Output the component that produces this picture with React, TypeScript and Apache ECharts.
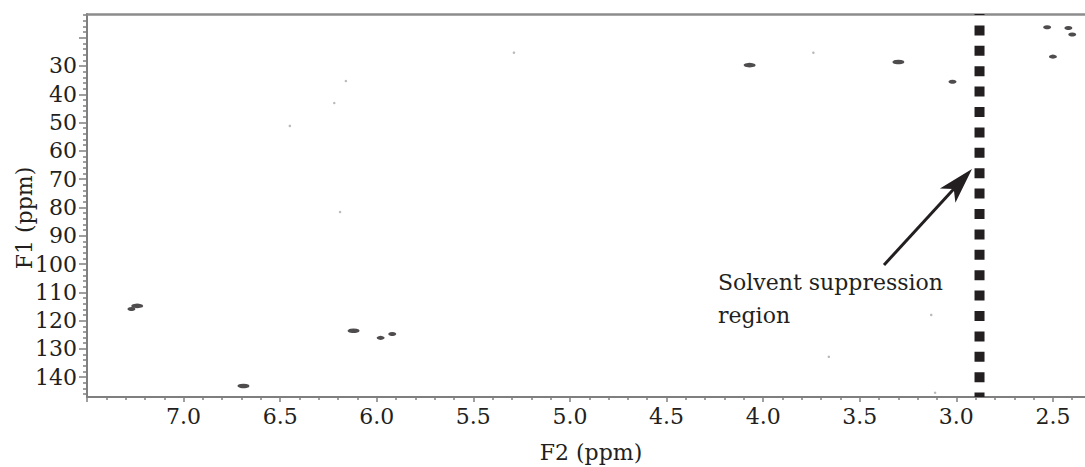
import React, { useEffect, useRef } from "react";
import * as echarts from "echarts";

// ---- axis ranges (ppm) ----
const F2_MIN = 2.334;
const F2_MAX = 7.5;
const F1_MIN = 11.63;
const F1_MAX = 147.0;

// ---- tick labels ----
const f2Labels = [2.5, 3.0, 3.5, 4.0, 4.5, 5.0, 5.5, 6.0, 6.5, 7.0];
const f2MajorTicks = [2.5, 3.0, 3.5, 4.0, 4.5, 5.0, 5.5, 6.0, 6.5, 7.0, 7.5];
const f1Labels = [30, 40, 50, 60, 70, 80, 90, 100, 110, 120, 130, 140];
const f1MajorTicks = [20, 30, 40, 50, 60, 70, 80, 90, 100, 110, 120, 130, 140];

const f2MinorTicks: number[] = [];
for (let i = 24; i <= 74; i++) if (i % 5 !== 0) f2MinorTicks.push(i / 10);
const f1MinorTicks: number[] = [];
for (let v = 12; v <= 146; v += 2) if (v % 10 !== 0) f1MinorTicks.push(v);

// ---- cross peaks [F2 ppm, F1 ppm] ----
const strongPeaks = [
  [7.24, 114.8],
  [6.69, 143.1],
  [6.12, 123.6],
  [4.07, 29.7],
  [3.30, 28.6],
];
const weakPeaks = [
  [7.27, 115.9],
  [5.98, 126.1],
  [5.92, 124.7],
  [3.02, 35.6],
  [2.53, 16.3],
  [2.50, 26.7],
  [2.42, 16.6],
  [2.40, 18.9],
];
const noiseDots = [
  [5.29, 25.3],
  [3.74, 25.3],
  [6.16, 35.3],
  [6.22, 43.1],
  [6.45, 51.2],
  [6.19, 81.6],
  [3.13, 118.0],
  [3.66, 132.8],
  [3.11, 145.5],
];

// solvent suppression column (F2 ppm)
const solventF2 = 2.88;

const INK = "#231f20";
const AXIS = "#7f7f7f";
const FONT = "DejaVu Serif";

// arrow annotation (pixels)
const arrowTail = [884, 265];
const arrowTip = [972, 169];

function arrowHead(tail: number[], tip: number[], len: number, half: number, notch: number) {
  const dx = tip[0] - tail[0];
  const dy = tip[1] - tail[1];
  const d = Math.hypot(dx, dy);
  const ux = dx / d, uy = dy / d;
  const nx = -uy, ny = ux;
  const bx = tip[0] - len * ux, by = tip[1] - len * uy;
  return {
    poly: [
      [tip[0], tip[1]],
      [bx + half * nx, by + half * ny],
      [tip[0] - (len - notch) * ux, tip[1] - (len - notch) * uy],
      [bx - half * nx, by - half * ny],
    ],
    lineEnd: [tip[0] - (len - notch) * ux, tip[1] - (len - notch) * uy],
  };
}

export default function App() {
  const ref = useRef<HTMLDivElement>(null);
  useEffect(() => {
    if (!ref.current) return;
    const chart = echarts.init(ref.current, undefined, { renderer: "svg" });
    const head = arrowHead(arrowTail, arrowTip, 36, 10.5, 9);
    const labelStyle = { color: INK, fontFamily: FONT, fontSize: 22 };
    chart.setOption({
      animation: false,
      backgroundColor: "#ffffff",
      grid: { left: 87, right: 0, top: 14, bottom: 70, outerBoundsMode: "none" },
      xAxis: [
        {
          type: "value",
          min: F2_MIN,
          max: F2_MAX,
          inverse: true,
          position: "bottom",
          axisLine: { show: true, lineStyle: { color: AXIS, width: 2 } },
          axisTick: { show: true, length: 5, customValues: f2MajorTicks, lineStyle: { color: AXIS, width: 1.5 } },
          axisLabel: {
            show: true,
            customValues: f2Labels,
            margin: 8,
            formatter: (v: number) => v.toFixed(1),
            ...labelStyle,
          },
          splitLine: { show: false },
        },
        {
          type: "value",
          min: F2_MIN,
          max: F2_MAX,
          inverse: true,
          position: "bottom",
          axisLine: { show: false },
          axisTick: { show: true, length: 3, customValues: f2MinorTicks, lineStyle: { color: AXIS, width: 1.5 } },
          axisLabel: { show: false },
          splitLine: { show: false },
        },
        {
          type: "value",
          min: F2_MIN,
          max: F2_MAX,
          inverse: true,
          position: "top",
          axisLine: { show: true, lineStyle: { color: "#8c8c8c", width: 2.5 } },
          axisTick: { show: false },
          axisLabel: { show: false },
          splitLine: { show: false },
        },
      ],
      yAxis: [
        {
          type: "value",
          min: F1_MIN,
          max: F1_MAX,
          inverse: true,
          position: "left",
          axisLine: { show: true, lineStyle: { color: AXIS, width: 2 } },
          axisTick: { show: true, length: 8, customValues: f1MajorTicks, lineStyle: { color: AXIS, width: 1.5 } },
          axisLabel: { show: true, customValues: f1Labels, margin: 10, ...labelStyle },
          splitLine: { show: false },
        },
        {
          type: "value",
          min: F1_MIN,
          max: F1_MAX,
          inverse: true,
          position: "left",
          axisLine: { show: false },
          axisTick: { show: true, length: 4, customValues: f1MinorTicks, lineStyle: { color: AXIS, width: 1.5 } },
          axisLabel: { show: false },
          splitLine: { show: false },
        },
      ],
      series: [
        {
          type: "line",
          data: [
            [solventF2, F1_MIN],
            [solventF2, F1_MAX],
          ],
          symbol: "none",
          silent: true,
          lineStyle: { color: INK, width: 10, type: [10, 10.4], dashOffset: 9.4, cap: "butt" },
        },
        {
          type: "scatter",
          data: strongPeaks,
          symbol: "circle",
          symbolSize: [12, 4.5],
          itemStyle: { color: INK },
          silent: true,
        },
        {
          type: "scatter",
          data: weakPeaks,
          symbol: "circle",
          symbolSize: [8, 4],
          itemStyle: { color: INK },
          silent: true,
        },
        {
          type: "scatter",
          data: noiseDots,
          symbol: "circle",
          symbolSize: 2.5,
          itemStyle: { color: "#a8a8a8" },
          silent: true,
        },
      ],
      graphic: [
        {
          type: "line",
          silent: true,
          shape: { x1: arrowTail[0], y1: arrowTail[1], x2: head.lineEnd[0], y2: head.lineEnd[1] },
          style: { stroke: INK, lineWidth: 3 },
        },
        {
          type: "polygon",
          silent: true,
          shape: { points: head.poly },
          style: { fill: INK },
        },
        {
          type: "text",
          silent: true,
          x: 718,
          y: 266,
          style: {
            text: "Solvent suppression\nregion",
            fill: INK,
            font: `22px "${FONT}"`,
            lineHeight: 33,
            align: "left",
            verticalAlign: "top",
          },
        },
        {
          type: "text",
          silent: true,
          x: 24,
          y: 218,
          rotation: Math.PI / 2,
          style: {
            text: "F1 (ppm)",
            fill: INK,
            font: `22px "${FONT}"`,
            align: "center",
            verticalAlign: "middle",
          },
        },
        {
          type: "text",
          silent: true,
          x: 591,
          y: 452,
          style: {
            text: "F2 (ppm)",
            fill: INK,
            font: `22px "${FONT}"`,
            align: "center",
            verticalAlign: "middle",
          },
        },
      ],
    });
    return () => chart.dispose();
  }, []);
  return (
    <div
      ref={ref}
      style={{ position: "fixed", left: 0, top: 0, width: 1085, height: 467, background: "#fff" }}
    />
  );
}
